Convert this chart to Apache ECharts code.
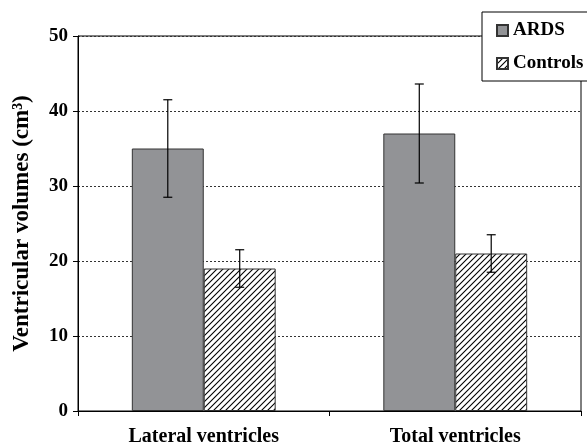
<!DOCTYPE html>
<html><head><meta charset="utf-8">
<script src="https://cdn.jsdelivr.net/npm/echarts@6/dist/echarts.min.js"></script>
<style>html,body{margin:0;padding:0;background:#fff}#c{width:587px;height:445px}</style>
</head><body><div id="c"></div>
<script>
const categories = ['Lateral ventricles', 'Total ventricles'];
const ardsValues = [35, 37];
const ardsErrors = [6.5, 6.6];
const controlValues = [19, 21];
const controlErrors = [2.5, 2.5];
const yTicks = [0, 10, 20, 30, 40, 50];

const font = 'Liberation Serif';
const cv = document.createElement('canvas');
cv.width = 6; cv.height = 6;
const g = cv.getContext('2d');
g.fillStyle = '#fff'; g.fillRect(0, 0, 6, 6);
g.strokeStyle = '#000'; g.lineWidth = 1.1;
g.beginPath();
g.moveTo(-1, 7); g.lineTo(7, -1);
g.moveTo(-4, 4); g.lineTo(4, -4);
g.moveTo(2, 10); g.lineTo(10, 2);
g.stroke();
const hatch = { image: cv, repeat: 'repeat' };

const BAR_FRAC = 0.286;
function errSeries(name, values, errors, side) {
  return {
    type: 'custom', name: name + '_err', z: 5, silent: true,
    data: values.map((v, i) => [i, v, v - errors[i], v + errors[i]]),
    renderItem: function (params, api) {
      const cw = api.size([1, 0])[0];
      const bw = cw * BAR_FRAC;
      const c = api.coord([api.value(0), api.value(1)]);
      const x = c[0] + side * bw / 2;
      const lo = api.coord([api.value(0), api.value(2)])[1];
      const hi = api.coord([api.value(0), api.value(3)])[1];
      const cap = 4.5;
      const st = { stroke: '#000', lineWidth: 1.2 };
      return { type: 'group', children: [
        { type: 'line', shape: { x1: x, y1: lo, x2: x, y2: hi }, style: st },
        { type: 'line', shape: { x1: x - cap, y1: lo, x2: x + cap, y2: lo }, style: st },
        { type: 'line', shape: { x1: x - cap, y1: hi, x2: x + cap, y2: hi }, style: st }
      ]};
    }
  };
}

const chart = echarts.init(document.getElementById('c'));
chart.setOption({
  animation: false,
  backgroundColor: '#fff',
  textStyle: { fontFamily: font },
  grid: { left: 78, right: 6, top: 36, bottom: 34, outerBoundsMode: 'none', containLabel: false,
    show: true, borderColor: '#000', borderWidth: 1, backgroundColor: 'transparent' },
  legend: {
    left: 482, top: 12, orient: 'vertical',
    data: ['ARDS', 'Controls'],
    icon: 'rect',
    itemWidth: 11, itemHeight: 11, itemGap: 14,
    padding: [9, 30, 8, 14],
    borderColor: '#000', borderWidth: 1, backgroundColor: '#fff',
    textStyle: { fontFamily: font, fontWeight: 'bold', fontSize: 19, color: '#000', padding: [0, 0, 0, 0] }
  },
  xAxis: {
    type: 'category', data: categories,
    axisLine: { lineStyle: { color: '#000', width: 1 } },
    axisTick: { show: true, length: 5, lineStyle: { color: '#000' } },
    axisLabel: { color: '#000', fontFamily: font, fontWeight: 'bold', fontSize: 20, margin: 16 }
  },
  yAxis: {
    type: 'value', min: yTicks[0], max: yTicks[yTicks.length - 1], interval: 10,
    name: 'Ventricular volumes (cm³)', nameLocation: 'middle', nameGap: 44, nameRotate: 90,
    nameTextStyle: { color: '#000', fontFamily: font, fontWeight: 'bold', fontSize: 23 },
    axisLine: { show: true, lineStyle: { color: '#000', width: 1 } },
    axisTick: { show: true, length: 5, lineStyle: { color: '#000' } },
    axisLabel: { color: '#000', fontFamily: font, fontWeight: 'bold', fontSize: 19, margin: 10 },
    splitLine: { show: true, lineStyle: { color: '#333', type: [2, 2], width: 1 } }
  },
  series: [
    { name: 'ARDS', type: 'bar', data: ardsValues, barWidth: (BAR_FRAC * 100) + '%', barGap: '0%',
      itemStyle: { color: '#929396', borderColor: '#333', borderWidth: 1 } },
    { name: 'Controls', type: 'bar', data: controlValues, barWidth: (BAR_FRAC * 100) + '%', barGap: '0%',
      itemStyle: { color: hatch, borderColor: '#333', borderWidth: 1 } },
    errSeries('ARDS', ardsValues, ardsErrors, -1),
    errSeries('Controls', controlValues, controlErrors, 1)
  ]
});
</script></body></html>
